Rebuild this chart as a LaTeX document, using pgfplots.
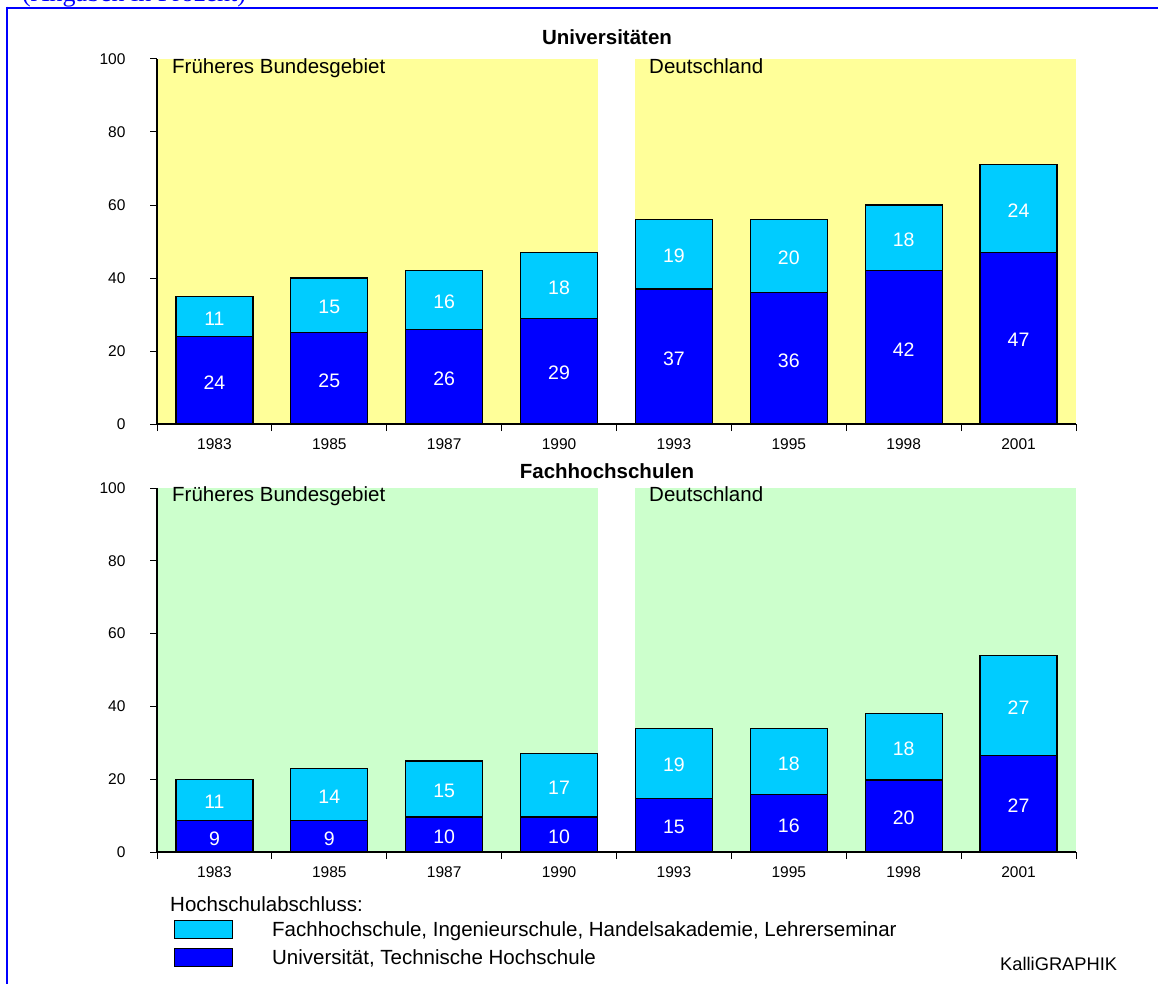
\documentclass[border=0pt]{standalone}
\usepackage{fontspec}
\setmainfont{Liberation Sans}
\newfontfamily\timesfont{Liberation Serif}
\usepackage{pgfplots}
\pgfplotsset{compat=1.18}
\usepackage{pgfplotstable}
\definecolor{ybg}{HTML}{FFFF99}
\definecolor{gbg}{HTML}{CCFFCC}
\definecolor{cyanbar}{HTML}{00CCFF}
\definecolor{bluebar}{HTML}{0000FF}

\newcommand{\bigfont}{\fontsize{20.5}{24}\selectfont}
\newcommand{\lblfont}{\fontsize{19.5}{23}\selectfont}
\newcommand{\tickfont}{\fontsize{15.5}{18}\selectfont}

\pgfplotstableread{
x u f ul fl
0 24.0 11.0 24 11
1 25.0 15.0 25 15
2 26.0 16.0 26 16
3 29.0 18.0 29 18
4 37.0 19.0 37 19
5 36.0 20.0 36 20
6 42.0 18.0 42 18
7 47.0 24.0 47 24
}\uni

\pgfplotstableread{
x u f ul fl
0 8.6 11.4 9 11
1 8.6 14.4 9 14
2 9.6 15.4 10 15
3 9.6 17.4 10 17
4 14.8 19.2 15 19
5 15.7 18.3 16 18
6 19.8 18.2 20 18
7 26.6 27.4 27 27
}\fh

\pgfplotsset{
  base/.style={
    width=919pt, scale only axis, anchor=south west,
    xmin=-0.5, xmax=7.5, ymin=0, ymax=100,
    enlargelimits=false,
  },
  panel/.style={
    base,
    axis lines*=left,
    ybar stacked, bar width=0.67,
    ytick={0,20,...,100},
    xtick={-0.5,0.5,...,7.5},
    xticklabels={1983,1985,1987,1990,1993,1995,1998,2001,{}},
    xticklabel style={xshift=57.4pt, yshift=-4pt},
    yticklabel style={xshift=-21pt},
    tick align=outside,
    major tick length=7pt,
    tick style={black, line width=1pt},
    axis line style={black, line width=1.3pt},
    tick label style={font=\tickfont},
    /pgf/number format/assume math mode=true,
    axis on top,
  },
  overlay/.style={base, hide axis, clip=false},
  seglbl/.style={
    draw=none, mark=none, nodes near coords, point meta=explicit symbolic,
    every node near coord/.append style={anchor=center, text=white, draw=none, fill=none,
      font=\lblfont, inner sep=0pt, yshift=-2pt},
  },
}

\begin{document}
\begin{tikzpicture}
\useasboundingbox (0pt,0pt) rectangle (1158pt,-984pt);
\fill[white] (0pt,0pt) rectangle (1158pt,-984pt);
% frame
\draw[bluebar, line width=2pt] (7pt,-7.7pt) -- (1158pt,-7.7pt);
\draw[bluebar, line width=2pt] (7pt,-6.7pt) -- (7pt,-984pt);
\node[anchor=base west, inner sep=0pt, text=bluebar, font=\timesfont\fontsize{26}{30}\selectfont] at (22pt,-1.5pt) {(Angaben in Prozent)};

% ---------- top panel ----------
\begin{axis}[overlay, at={(157pt,-424pt)}, height=365pt]
  \fill[ybg] (axis cs:-0.5,0) rectangle (axis cs:3.343,100);
  \fill[ybg] (axis cs:3.657,0) rectangle (axis cs:7.5,100);
\end{axis}
\begin{axis}[panel, at={(157pt,-424pt)}, height=365pt]
  \addplot[fill=bluebar, draw=black, line width=1.2pt] table[x=x, y=u] {\uni};
  \addplot[fill=cyanbar, draw=black, line width=1.2pt] table[x=x, y=f] {\uni};
\end{axis}
\begin{axis}[overlay, at={(157pt,-424pt)}, height=365pt]
  \addplot[seglbl] table[x=x, y expr=\thisrow{u}/2, meta=ul] {\uni};
  \addplot[seglbl] table[x=x, y expr=\thisrow{u}+\thisrow{f}/2, meta=fl] {\uni};
\end{axis}

% ---------- bottom panel ----------
\begin{axis}[overlay, at={(157pt,-852pt)}, height=364pt]
  \fill[gbg] (axis cs:-0.5,0) rectangle (axis cs:3.343,100);
  \fill[gbg] (axis cs:3.657,0) rectangle (axis cs:7.5,100);
\end{axis}
\begin{axis}[panel, at={(157pt,-852pt)}, height=364pt,
  reverse legend,
  legend image code/.code={\draw[#1, line width=1pt] (0pt,-9pt) rectangle (58pt,9pt);},
  legend style={at={(axis description cs:0.0185,-0.187)}, anchor=north west,
    draw=none, fill=none, font=\bigfont, inner sep=0pt, row sep=9pt,
    nodes={inner sep=0pt}, cells={anchor=west},
    /tikz/every odd column/.append style={column sep=39pt}},
]
  \addplot[fill=bluebar, draw=black, line width=1.2pt] table[x=x, y=u] {\fh};
  \addlegendentry{Universität, Technische Hochschule}
  \addplot[fill=cyanbar, draw=black, line width=1.2pt] table[x=x, y=f] {\fh};
  \addlegendentry{Fachhochschule, Ingenieurschule, Handelsakademie, Lehrerseminar}
\end{axis}
\begin{axis}[overlay, at={(157pt,-852pt)}, height=364pt]
  \addplot[seglbl] table[x=x, y expr=\thisrow{u}/2, meta=ul] {\fh};
  \addplot[seglbl] table[x=x, y expr=\thisrow{u}+\thisrow{f}/2, meta=fl] {\fh};
\end{axis}

% texts
\node[anchor=base, font=\bigfont\bfseries, inner sep=0pt] at (607pt,-45pt) {Universitäten};
\node[anchor=base, font=\bigfont\bfseries, inner sep=0pt] at (607pt,-478pt) {Fachhochschulen};
\node[anchor=base west, font=\bigfont, inner sep=0pt] at (172pt,-73.5pt) {Früheres Bundesgebiet};
\node[anchor=base west, font=\bigfont, inner sep=0pt] at (649pt,-73.5pt) {Deutschland};
\node[anchor=base west, font=\bigfont, inner sep=0pt] at (172pt,-501.5pt) {Früheres Bundesgebiet};
\node[anchor=base west, font=\bigfont, inner sep=0pt] at (649pt,-501.5pt) {Deutschland};
\node[anchor=base west, font=\bigfont, inner sep=0pt] at (170pt,-911pt) {Hochschulabschluss:};
\node[anchor=base west, font=\fontsize{18.3}{21}\selectfont, inner sep=0pt] at (1000pt,-970.5pt) {KalliGRAPHIK};
\end{tikzpicture}
\end{document}
